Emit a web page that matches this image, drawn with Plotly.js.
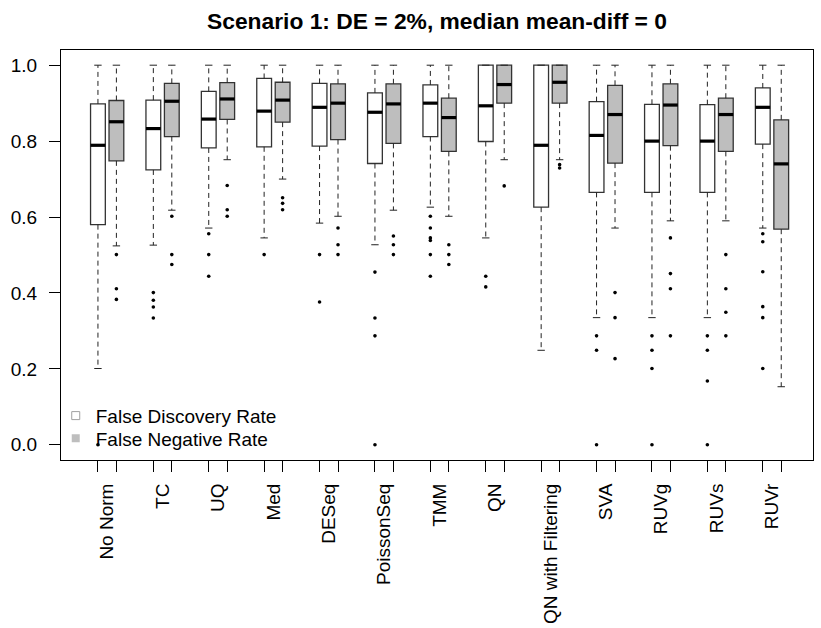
<!DOCTYPE html>
<html>
<head>
<meta charset="utf-8">
<script src="https://cdn.plot.ly/plotly-3.0.1.min.js"></script>
<style>html,body{margin:0;padding:0;background:#fff;}#chart{width:821px;height:628px;}</style>
</head>
<body>
<div id="chart"></div>
<script>
// ---- data ----
const methods = ['No Norm','TC','UQ','Med','DESeq','PoissonSeq','TMM','QN','QN with Filtering','SVA','RUVg','RUVs','RUVr'];

// False Discovery Rate (white boxes)
const fdrLow  = [0.201,0.526,0.571,0.545,0.584,0.527,0.626,0.545,0.249,0.335,0.335,0.335,0.571];
const fdrQ1   = [0.580,0.724,0.782,0.785,0.787,0.741,0.812,0.799,0.626,0.665,0.665,0.665,0.792];
const fdrMed  = [0.789,0.833,0.858,0.879,0.889,0.876,0.900,0.893,0.789,0.815,0.800,0.800,0.889];
const fdrQ3   = [0.898,0.908,0.931,0.965,0.952,0.927,0.948,1.000,1.000,0.904,0.897,0.896,0.940];
const fdrHigh = [1.000,1.000,1.000,1.000,1.000,1.000,1.000,1.000,1.000,1.000,1.000,1.000,1.000];
const fdrOut  = [
  [0.0],
  [0.401,0.381,0.363,0.334],
  [0.556,0.501,0.444],
  [0.501],
  [0.501,0.376],
  [0.455,0.334,0.287,0.0],
  [0.602,0.571,0.545,0.538,0.501,0.444],
  [0.444,0.416],
  [],
  [0.287,0.249,0.0],
  [0.287,0.249,0.201,0.0],
  [0.287,0.249,0.168,0.0],
  [0.556,0.535,0.456,0.364,0.335,0.201]
];

// False Negative Rate (grey boxes)
const fnrLow  = [0.524,0.618,0.751,0.700,0.602,0.618,0.602,0.751,0.751,0.571,0.590,0.590,0.153];
const fnrQ1   = [0.748,0.812,0.857,0.850,0.804,0.794,0.773,0.900,0.900,0.742,0.788,0.773,0.568];
const fnrMed  = [0.851,0.905,0.911,0.908,0.900,0.898,0.862,0.949,0.955,0.870,0.895,0.870,0.740];
const fnrQ3   = [0.907,0.952,0.954,0.955,0.951,0.951,0.913,1.000,1.000,0.947,0.951,0.913,0.856];
const fnrHigh = [1.000,1.000,1.000,1.000,1.000,1.000,1.000,1.000,1.000,1.000,1.000,1.000,1.000];
const fnrOut  = [
  [0.501,0.411,0.383],
  [0.602,0.501,0.475],
  [0.683,0.619,0.602],
  [0.651,0.636,0.619],
  [0.571,0.527,0.501],
  [0.550,0.527,0.501],
  [0.527,0.501,0.475],
  [0.682],
  [0.738,0.729],
  [0.401,0.335,0.227],
  [0.545,0.451,0.411,0.287],
  [0.501,0.411,0.349,0.287],
  []
];

const yTicks = [0, 0.2, 0.4, 0.6, 0.8, 1.0];
const yTickText = ['0.0','0.2','0.4','0.6','0.8','1.0'];
const seriesNames = ['False Discovery Rate','False Negative Rate'];

// ---- layout helpers ----
const FONT = 'Liberation Sans, Arial, Helvetica, sans-serif';
const fdrPos = methods.map((m,i)=>3*i+1);
const fnrPos = methods.map((m,i)=>3*i+2);
const labelPos = methods.map((m,i)=>3*i+1.5);
const BOXW = 0.8, CAPW = 0.4;

function whiskers(pos, low, q1, q3, high){
  const x=[], y=[];
  pos.forEach((p,i)=>{ x.push(p,p,null,p,p,null); y.push(q3[i],high[i],null,q1[i],low[i],null); });
  return {x,y};
}
function caps(pos, low, high){
  const x=[], y=[];
  pos.forEach((p,i)=>{ x.push(p-CAPW/2,p+CAPW/2,null,p-CAPW/2,p+CAPW/2,null); y.push(high[i],high[i],null,low[i],low[i],null); });
  return {x,y};
}
function medians(pos, med){
  const x=[], y=[];
  pos.forEach((p,i)=>{ x.push(p-BOXW/2,p+BOXW/2,null); y.push(med[i],med[i],null); });
  return {x,y};
}
function outliers(pos, out){
  const x=[], y=[];
  pos.forEach((p,i)=>{ out[i].forEach(v=>{ x.push(p); y.push(v); }); });
  return {x,y};
}

function series(pos, low, q1, med, q3, high, out, fill){
  const w = whiskers(pos, low, q1, q3, high), c = caps(pos, low, high), m = medians(pos, med), o = outliers(pos, out);
  return [
    {type:'box', x:pos, q1:q1, median:med, q3:q3, lowerfence:q1, upperfence:q3, width:BOXW, whiskerwidth:0,
     fillcolor:fill, line:{color:'#333333', width:1.3}, boxpoints:false, showlegend:false, hoverinfo:'skip'},
    {type:'scatter', mode:'lines', x:w.x, y:w.y, line:{color:'#222', width:1, dash:'5px,4px'}, showlegend:false, hoverinfo:'skip'},
    {type:'scatter', mode:'lines', x:c.x, y:c.y, line:{color:'#222', width:1}, showlegend:false, hoverinfo:'skip'},
    {type:'scatter', mode:'lines', x:m.x, y:m.y, line:{color:'#000', width:3.2}, showlegend:false, hoverinfo:'skip'},
    {type:'scatter', mode:'markers', x:o.x, y:o.y, marker:{color:'#000', size:3.6}, showlegend:false, hoverinfo:'skip'}
  ];
}

const data = [].concat(
  series(fdrPos, fdrLow, fdrQ1, fdrMed, fdrQ3, fdrHigh, fdrOut, '#ffffff'),
  series(fnrPos, fnrLow, fnrQ1, fnrMed, fnrQ3, fnrHigh, fnrOut, '#bebebe'),
  [
    {type:'scatter', mode:'markers', x:[null], y:[null], xaxis:'x2', name:seriesNames[0], legend:'legend',
     marker:{symbol:'square', size:8, color:'#ffffff', line:{color:'#a0a0a0', width:1}}},
    {type:'scatter', mode:'markers', x:[null], y:[null], xaxis:'x2', name:seriesNames[1], legend:'legend2',
     marker:{symbol:'square', size:8, color:'#bebebe', line:{color:'#bebebe', width:0}}}
  ]
);

const xRange = [-1.0, 39.72];
const legendBase = {x:-0.007, xanchor:'left', yanchor:'bottom', bgcolor:'rgba(0,0,0,0)',
                    font:{family:FONT, size:19, color:'#000'}, itemclick:false, itemdoubleclick:false};
const layout = {
  width:821, height:628,
  margin:{l:60.7, r:8.3, t:49.5, b:168, pad:0},
  paper_bgcolor:'#fff', plot_bgcolor:'#fff',
  font:{family:FONT, size:19, color:'#000'},
  title:{text:'Scenario 1: DE = 2%, median mean-diff = 0', font:{family:FONT, size:22.8, weight:'bold', color:'#000'},
         x:0.5, xref:'paper', xanchor:'center', y:1-21.5/628, yref:'container', yanchor:'middle'},
  boxmode:'overlay',
  showlegend:true,
  legend:Object.assign({}, legendBase, {y:0.0616}),
  legend2:Object.assign({}, legendBase, {y:0.0066}),
  xaxis:{range:xRange, tickmode:'array', tickvals:fdrPos.concat(fnrPos), showticklabels:false,
         ticks:'outside', ticklen:11, tickwidth:1, tickcolor:'#000',
         showline:true, mirror:true, linecolor:'#000', linewidth:1, showgrid:false, zeroline:false, fixedrange:true},
  xaxis2:{range:xRange, overlaying:'x', anchor:'y', side:'bottom', tickmode:'array', tickvals:labelPos, ticktext:methods,
          tickangle:-90, ticks:'outside', ticklen:11, tickcolor:'rgba(0,0,0,0)', ticklabelstandoff:4,
          showline:false, showgrid:false, zeroline:false, fixedrange:true, tickfont:{family:FONT, size:19, color:'#000'}},
  yaxis:{range:[-0.04, 1.04], tickmode:'array', tickvals:yTicks, ticktext:yTickText,
         ticks:'outside', ticklen:11, tickwidth:1, tickcolor:'#000', ticklabelstandoff:8,
         showline:true, mirror:true, linecolor:'#000', linewidth:1, showgrid:false, zeroline:false, fixedrange:true,
         tickfont:{family:FONT, size:19, color:'#000'}}
};

Plotly.newPlot('chart', data, layout, {displayModeBar:false, staticPlot:true});
</script>
</body>
</html>
